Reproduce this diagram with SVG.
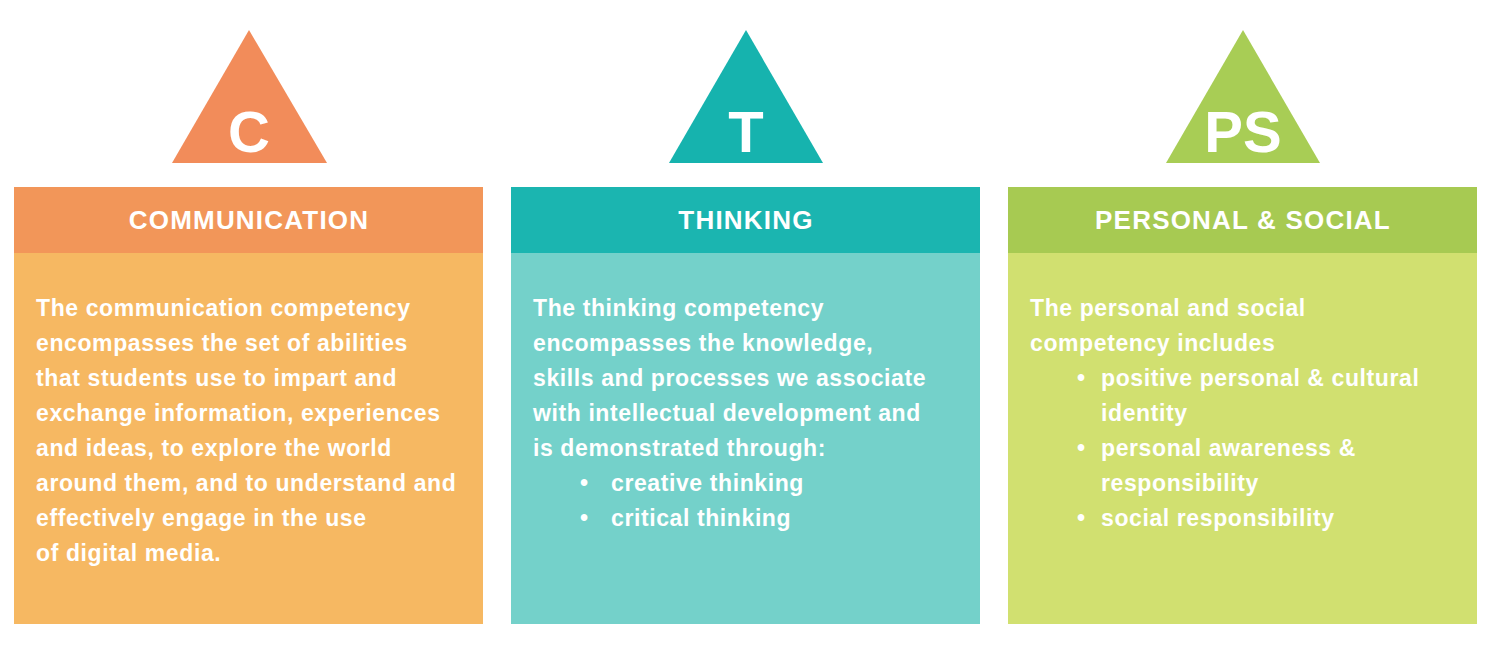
<svg xmlns="http://www.w3.org/2000/svg" width="1488" height="657" viewBox="0 0 1488 657">
<style>
.b{font-family:"Liberation Sans",Arial,sans-serif;font-weight:bold;font-size:23px;fill:#fff;letter-spacing:0.6px}
.h{font-family:"Liberation Sans",Arial,sans-serif;font-weight:bold;font-size:26px;fill:#fff;letter-spacing:1.2px;text-anchor:middle}
.t{font-family:"Liberation Sans",Arial,sans-serif;font-weight:bold;font-size:58px;fill:#fff;text-anchor:middle}
</style>
<rect width="1488" height="657" fill="#fff"/>
<g id="communication">
<polygon points="249,30 327,163 172,163" fill="#f28c5a"/>
<text class="t" x="249" y="152">C</text>
<rect x="14" y="187" width="469" height="66" fill="#f29659"/>
<rect x="14" y="253" width="469" height="371" fill="#f6b862"/>
<text class="h" x="249" y="229">COMMUNICATION</text>
<text class="b" x="36" y="316">The communication competency</text>
<text class="b" x="36" y="351">encompasses the set of abilities</text>
<text class="b" x="36" y="386">that students use to impart and</text>
<text class="b" x="36" y="421">exchange information, experiences</text>
<text class="b" x="36" y="456">and ideas, to explore the world</text>
<text class="b" x="36" y="491">around them, and to understand and</text>
<text class="b" x="36" y="526">effectively engage in the use</text>
<text class="b" x="36" y="561">of digital media.</text>
</g>
<g id="thinking">
<polygon points="746,30 823,163 669,163" fill="#16b3ae"/>
<text class="t" x="746" y="152">T</text>
<rect x="511" y="187" width="469" height="66" fill="#1bb5b0"/>
<rect x="511" y="253" width="469" height="371" fill="#74d1ca"/>
<text class="h" x="746" y="229">THINKING</text>
<text class="b" x="533" y="316">The thinking competency</text>
<text class="b" x="533" y="351">encompasses the knowledge,</text>
<text class="b" x="533" y="386">skills and processes we associate</text>
<text class="b" x="533" y="421">with intellectual development and</text>
<text class="b" x="533" y="456">is demonstrated through:</text>
<text class="b" x="580" y="491">•</text><text class="b" x="611" y="491">creative thinking</text>
<text class="b" x="580" y="526">•</text><text class="b" x="611" y="526">critical thinking</text>
</g>
<g id="personal-social">
<polygon points="1243,30 1320,163 1166,163" fill="#a8cd55"/>
<text class="t" x="1243" y="152">PS</text>
<rect x="1008" y="187" width="469" height="66" fill="#a7ca52"/>
<rect x="1008" y="253" width="469" height="371" fill="#d1e070"/>
<text class="h" x="1243" y="229">PERSONAL &amp; SOCIAL</text>
<text class="b" x="1030" y="316">The personal and social</text>
<text class="b" x="1030" y="351">competency includes</text>
<text class="b" x="1077" y="386">•</text><text class="b" x="1101" y="386">positive personal &amp; cultural</text>
<text class="b" x="1101" y="421">identity</text>
<text class="b" x="1077" y="456">•</text><text class="b" x="1101" y="456">personal awareness &amp;</text>
<text class="b" x="1101" y="491">responsibility</text>
<text class="b" x="1077" y="526">•</text><text class="b" x="1101" y="526">social responsibility</text>
</g>
<g id="connectors"/>
</svg>
